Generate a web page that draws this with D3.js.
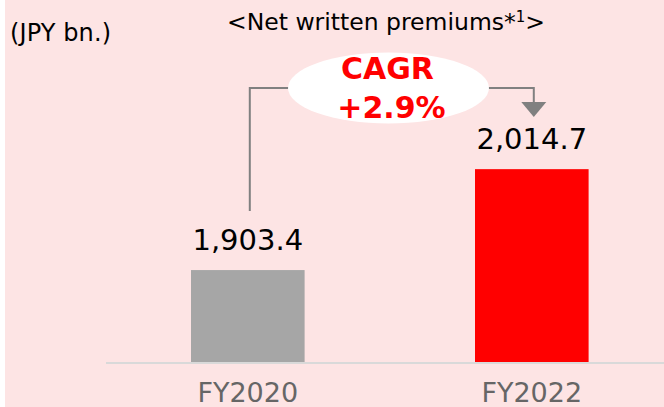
<!DOCTYPE html>
<html>
  <head>
    <meta charset="utf-8">
    <title>Net written premiums</title>
    <style>
      body { margin: 0; background: #fff; }
      svg { display: block; font-family: "DejaVu Sans", sans-serif; }
    </style>
  </head>
  <body>
    <script src="https://d3js.org/d3.v7.min.js"></script>
    <script>
      // Datos del gráfico
      var categories = ["FY2020", "FY2022"];
      var values = [1903.4, 2014.7];
      var valueLabels = ["1,903.4", "2,014.7"];
      var barColors = ["#a6a6a6", "#ff0000"];
      var cagrLines = ["CAGR", "+2.9%"];

      var width = 664, height = 407;
      var baseline = 362;

      var svg = d3.select("body").append("svg")
        .attr("width", width)
        .attr("height", height);

      // fondo rosa (con franja blanca a la izquierda)
      svg.append("rect")
        .attr("x", 5).attr("y", 0)
        .attr("width", width - 5).attr("height", height)
        .attr("fill", "#fde4e4");

      var x = d3.scaleBand()
        .domain(categories)
        .range([105.8, 673.8])
        .paddingInner(0.6)
        .paddingOuter(0.3);

      var y = d3.scaleLinear()
        .domain([1802, 2102])
        .range([baseline, baseline - 272]);

      // Títulos
      svg.append("text")
        .attr("x", 10).attr("y", 41)
        .attr("font-size", "24px")
        .attr("textLength", 101)
        .attr("fill", "#000")
        .text("(JPY bn.)");

      var title = svg.append("text")
        .attr("x", 386).attr("y", 30)
        .attr("text-anchor", "middle")
        .attr("font-size", "23.5px")
        .attr("fill", "#000");
      title.append("tspan").text("<Net written premiums*");
      title.append("tspan").attr("font-size", "15px").attr("dy", -8).text("1");
      title.append("tspan").attr("dy", 8).text(">");

      // Barras
      svg.selectAll("rect.bar")
        .data(values)
        .enter()
        .append("rect")
        .attr("class", "bar")
        .attr("x", function(d, i) { return x(categories[i]); })
        .attr("y", function(d) { return y(d); })
        .attr("width", x.bandwidth())
        .attr("height", function(d) { return baseline - y(d); })
        .attr("fill", function(d, i) { return barColors[i]; });

      // Eje X (solo la línea y las etiquetas)
      svg.append("line")
        .attr("x1", 106).attr("x2", width)
        .attr("y1", baseline + 1).attr("y2", baseline + 1)
        .attr("stroke", "#d9d9d9")
        .attr("stroke-width", 2);

      svg.selectAll("text.cat")
        .data(categories)
        .enter()
        .append("text")
        .attr("class", "cat")
        .attr("x", function(d) { return x(d) + x.bandwidth() / 2; })
        .attr("y", 402)
        .attr("text-anchor", "middle")
        .attr("font-size", "27px")
        .attr("fill", "#666666")
        .text(function(d) { return d; });

      // Etiquetas de valor
      svg.selectAll("text.val")
        .data(values)
        .enter()
        .append("text")
        .attr("class", "val")
        .attr("x", function(d, i) { return x(categories[i]) + x.bandwidth() / 2; })
        .attr("y", function(d) { return y(d) - 20; })
        .attr("text-anchor", "middle")
        .attr("font-size", "29px")
        .attr("fill", "#000")
        .text(function(d, i) { return valueLabels[i]; });

      // Conector CAGR
      var xa = x(categories[0]) + x.bandwidth() / 2 + 2;
      var xb = x(categories[1]) + x.bandwidth() / 2 + 2;
      var topY = 88;
      svg.append("path")
        .attr("d", "M" + xa + "," + (y(values[0]) - 59) + "V" + topY + "H" + xb + "V" + 103)
        .attr("fill", "none")
        .attr("stroke", "#808080")
        .attr("stroke-width", 2);
      svg.append("path")
        .attr("d", "M" + (xb - 12.5) + ",102L" + (xb + 12.5) + ",102L" + xb + ",117Z")
        .attr("fill", "#808080");

      svg.append("ellipse")
        .attr("cx", 388.5).attr("cy", 88)
        .attr("rx", 100.5).attr("ry", 35.5)
        .attr("fill", "#ffffff");

      svg.selectAll("text.cagr")
        .data(cagrLines)
        .enter()
        .append("text")
        .attr("class", "cagr")
        .attr("x", function(d, i) { return i === 0 ? 387.5 : 391.5; })
        .attr("y", function(d, i) { return i === 0 ? 79 : 118; })
        .attr("text-anchor", "middle")
        .attr("font-size", "30px")
        .attr("font-weight", "bold")
        .attr("fill", "#ff0000")
        .text(function(d) { return d; });
    </script>
  </body>
</html>
